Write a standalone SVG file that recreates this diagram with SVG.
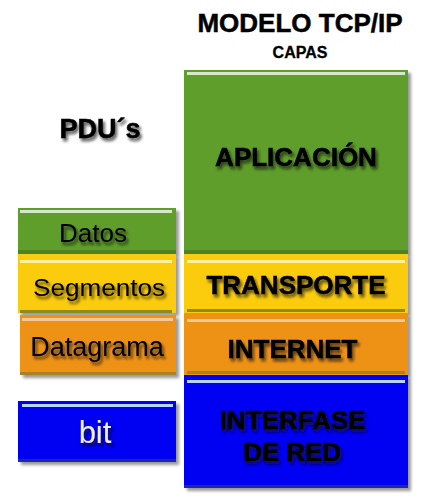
<svg xmlns="http://www.w3.org/2000/svg" width="429" height="499" viewBox="0 0 429 499">
<defs>
<filter id="boxsh" x="-10%" y="-10%" width="125%" height="125%">
<feDropShadow dx="3" dy="3" stdDeviation="1.5" flood-color="#555" flood-opacity="0.6"/>
</filter>
<filter id="txsh" x="-10%" y="-20%" width="125%" height="160%">
<feDropShadow dx="2" dy="3" stdDeviation="1.8" flood-color="#111" flood-opacity="0.7"/>
</filter>
</defs>
<style>
.t{font-family:"Liberation Sans",Arial,sans-serif;text-anchor:middle;fill:#000}
.b{font-weight:bold;stroke:#000;stroke-width:0.5}
.hl{stroke-width:3;stroke-linecap:butt}
.green{fill:#5f9e2a}
.yellow{fill:#fbcb0c}
.orange{fill:#ee9214}
.blue{fill:#0000f2}
</style>
<g id="title">
<text class="t b" x="300" y="32" font-size="26">MODELO TCP/IP</text>
<text class="t b" x="300" y="58" font-size="16" style="stroke-width:0.3">CAPAS</text>
</g>
<g id="pdus">
<text class="t b" x="100" y="138" font-size="27" filter="url(#txsh)">PDU´s</text>
</g>
<g id="aplicacion">
<rect class="green" x="184" y="70" width="224" height="184" filter="url(#boxsh)"/>
<line class="hl" x1="187" y1="73.5" x2="405" y2="73.5" stroke="#d8e6cc"/>
<rect x="184" y="250" width="224" height="4" fill="#4d8222"/>
<text class="t b" x="296" y="166" font-size="26" filter="url(#txsh)">APLICACIÓN</text>
</g>
<g id="transporte">
<rect class="yellow" x="184" y="254" width="224" height="59" filter="url(#boxsh)"/>
<line class="hl" x1="187" y1="261.5" x2="405" y2="261.5" stroke="#fdf0a0"/>
<rect x="187" y="309" width="218" height="3" fill="#8e8a26"/>
<text class="t b" x="296" y="294" font-size="26" filter="url(#txsh)">TRANSPORTE</text>
</g>
<g id="internet">
<rect class="orange" x="184" y="313" width="224" height="62" filter="url(#boxsh)"/>
<line class="hl" x1="187" y1="320.5" x2="405" y2="320.5" stroke="#f6c896"/>
<rect x="187" y="371" width="218" height="3" fill="#a88224"/>
<text class="t b" x="292.5" y="358" font-size="26" filter="url(#txsh)">INTERNET</text>
</g>
<g id="interfase">
<rect class="blue" x="184" y="375" width="224" height="113" filter="url(#boxsh)"/>
<line class="hl" x1="187" y1="381.5" x2="405" y2="381.5" stroke="#b8d4f4"/>
<rect x="184" y="485" width="224" height="3" fill="#1a2aa0"/>
<text class="t b" x="292.5" y="429" font-size="26" filter="url(#txsh)">INTERFASE</text>
<text class="t b" x="292" y="461" font-size="26" filter="url(#txsh)">DE RED</text>
</g>
<g id="datos">
<rect class="green" x="18" y="208" width="158" height="46" filter="url(#boxsh)"/>
<line class="hl" x1="20" y1="211.5" x2="172" y2="211.5" stroke="#d8e6cc"/>
<rect x="18" y="250" width="158" height="4" fill="#4d8222"/>
<text class="t" x="93" y="242" font-size="26" filter="url(#txsh)">Datos</text>
</g>
<g id="segmentos">
<rect class="yellow" x="18" y="254" width="158" height="59" filter="url(#boxsh)"/>
<line class="hl" x1="20" y1="261.5" x2="172" y2="261.5" stroke="#fdf0a0"/>
<rect x="20" y="310" width="152" height="3" fill="#8e8a26"/>
<text class="t" x="99" y="296" font-size="24" textLength="132" lengthAdjust="spacingAndGlyphs" filter="url(#txsh)">Segmentos</text>
</g>
<g id="datagrama">
<rect class="orange" x="20" y="315" width="156" height="60" filter="url(#boxsh)"/>
<line class="hl" x1="22" y1="319.5" x2="173" y2="319.5" stroke="#f6c896"/>
<rect x="20" y="372" width="156" height="3" fill="#a88224"/>
<text class="t" x="97" y="356" font-size="27" filter="url(#txsh)">Datagrama</text>
</g>
<g id="bit">
<rect class="blue" x="18" y="401" width="158" height="61" filter="url(#boxsh)"/>
<line class="hl" x1="22" y1="405.5" x2="173" y2="405.5" stroke="#b8d4f4"/>
<rect x="18" y="459" width="158" height="3" fill="#1a2aa0"/>
<text class="t" x="95" y="443" font-size="31" style="fill:#eeeeee" filter="url(#txsh)">bit</text>
</g>
</svg>
